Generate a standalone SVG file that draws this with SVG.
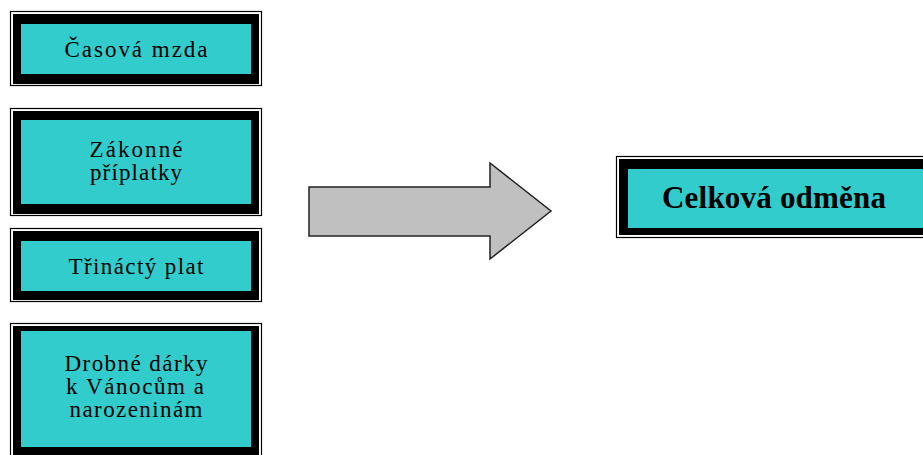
<svg xmlns="http://www.w3.org/2000/svg" width="923" height="455" viewBox="0 0 923 455">
<style>
.outer{fill:#fff;stroke:#000;stroke-width:1.2}
.thick{fill:#000}
.fill{fill:#33CCCC}
.t{font-family:"Liberation Serif","Times New Roman",serif;font-size:23px;fill:#000;text-anchor:middle}
.tb{font-family:"Liberation Serif","Times New Roman",serif;font-size:31px;font-weight:bold;fill:#000;text-anchor:middle}
.arrow{fill:#C0C0C0;stroke:#222;stroke-width:1.5;stroke-linejoin:miter}
</style>
<rect width="923" height="455" fill="#fff"/>
<g id="casova-mzda">
<rect class="outer" x="10.5" y="11.5" width="251" height="74"/>
<rect class="thick" x="13" y="14" width="246" height="70"/>
<rect class="fill" x="21" y="24" width="230" height="50"/>
<text class="t" x="136" y="57" textLength="143" lengthAdjust="spacing">Časová mzda</text>
</g>
<g id="zakonne-priplatky">
<rect class="outer" x="10.5" y="108.5" width="251" height="107"/>
<rect class="thick" x="13" y="111" width="246" height="103"/>
<rect class="fill" x="21" y="120" width="230" height="84"/>
<text class="t" x="136" y="157" textLength="93" lengthAdjust="spacing">Zákonné</text>
<text class="t" x="136" y="180" textLength="92" lengthAdjust="spacing">příplatky</text>
</g>
<g id="trinacty-plat">
<rect class="outer" x="10.5" y="228.5" width="251" height="73"/>
<rect class="thick" x="13" y="231" width="246" height="69"/>
<rect class="fill" x="21" y="241" width="230" height="50"/>
<text class="t" x="136" y="274" textLength="135" lengthAdjust="spacing">Třináctý plat</text>
</g>
<g id="drobne-darky">
<rect class="outer" x="10.5" y="323.5" width="251" height="140"/>
<rect class="thick" x="13" y="326" width="246" height="135"/>
<rect class="fill" x="21" y="331" width="230" height="116"/>
<text class="t" x="136" y="371" textLength="143" lengthAdjust="spacing">Drobné dárky</text>
<text class="t" x="135" y="394" textLength="138" lengthAdjust="spacing">k Vánocům a</text>
<text class="t" x="136" y="417" textLength="133" lengthAdjust="spacing">narozeninám</text>
</g>
<g id="connectors">
<polygon class="arrow" points="309,187 490,187 490,163 551,211 490,259 490,236 309,236"/>
</g>
<g id="celkova-odmena">
<rect class="outer" x="616.5" y="156.5" width="320" height="81"/>
<rect class="thick" x="619" y="159" width="320" height="76"/>
<rect class="fill" x="628" y="169" width="310" height="59"/>
<text class="tb" x="774" y="208" textLength="224" lengthAdjust="spacing">Celková odměna</text>
</g>
</svg>
